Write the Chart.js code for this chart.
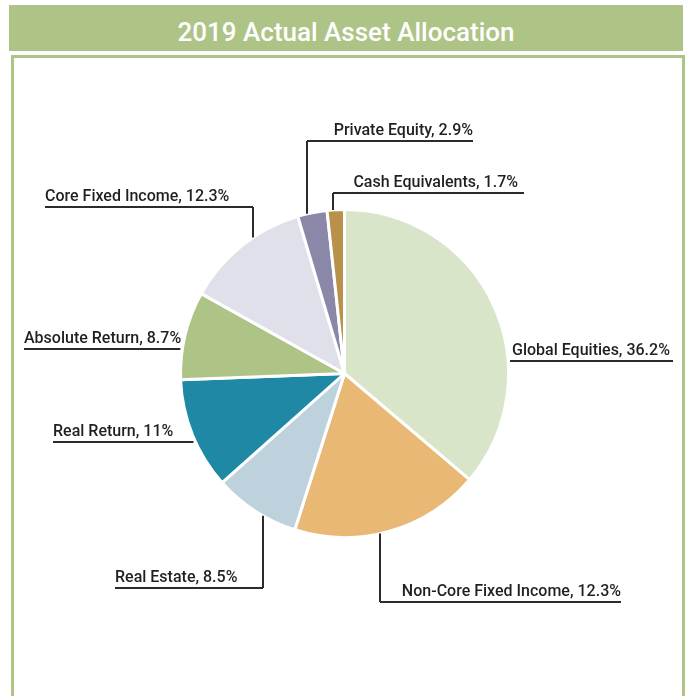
<!DOCTYPE html>
<html>
<head>
<meta charset="utf-8">
<script src="https://cdn.jsdelivr.net/npm/chart.js@4.4.1/dist/chart.umd.min.js"></script>
<style>
    html, body { margin: 0; padding: 0; background: #fff; }
    body { width: 688px; height: 696px; position: relative; overflow: hidden; font-family: Roboto, sans-serif; }
    #header {
        position: absolute; left: 9px; top: 5px; width: 674px; height: 46px;
        background: #adc486; color: #fff; text-align: center;
        font: 500 26px Roboto, sans-serif; line-height: 54px;
    }
    #box {
        position: absolute; left: 11px; top: 55px; width: 668px; height: 660px;
        border: 3px solid #adc486;
    }
    #chart { position: absolute; left: 0; top: 0; }
</style>
</head>
<body>
<div id="header">2019 Actual Asset Allocation</div>
<div id="box"></div>
<canvas id="chart" width="688" height="696"></canvas>
<script>
'use strict';

// slice order, clockwise from 12 o'clock
const categories = ['Global Equities', 'Non-Core Fixed Income', 'Real Estate', 'Real Return',
    'Absolute Return', 'Core Fixed Income', 'Private Equity', 'Cash Equivalents'];
// slice sizes as drawn (the non-core slice is drawn larger than its printed label)
const sliceValues = [36.2, 18.7, 8.5, 11, 8.7, 12.3, 2.9, 1.7];
// percentages as printed in the callouts
const labelValues = ['36.2%', '12.3%', '8.5%', '11%', '8.7%', '12.3%', '2.9%', '1.7%'];
const sliceColors = ['#d9e5c9', '#e9b874', '#bdd2dc', '#1f88a4', '#adc486', '#e0e0ea', '#8b87a8', '#b8924b'];

// callout layout: underline y, underline start/end, text anchor, leader type
// 'v' = vertical drop at x to the pie edge, 'l' / 'r' = underline runs to the pie edge
const callouts = [
    { y: 361, x1: 673, tx: 512, align: 'left', lead: 'r' },
    { y: 602, x0: 380, x1: 621, tx: 621, align: 'right', lead: 'v', vx: 380 },
    { y: 588, x0: 115, x1: 263, tx: 115, align: 'left', lead: 'v', vx: 263 },
    { y: 442, x0: 53, tx: 53, align: 'left', lead: 'l' },
    { y: 349, x0: 24, tx: 24, align: 'left', lead: 'l' },
    { y: 207, x0: 45, x1: 253, tx: 45, align: 'left', lead: 'v', vx: 253 },
    { y: 141, x0: 307, x1: 473, tx: 473, align: 'right', lead: 'v', vx: 307 },
    { y: 193, x0: 333, x1: 524, tx: 518, align: 'right', lead: 'v', vx: 333 }
];

const calloutPlugin = {
    id: 'callouts',
    afterDraw: function(chart) {
        const ctx = chart.ctx;
        const arc = chart.getDatasetMeta(0).data[0];
        const cx = arc.x, cy = arc.y, r = arc.outerRadius;
        ctx.save();
        ctx.strokeStyle = '#2b2b2b';
        ctx.lineWidth = 2;
        ctx.fillStyle = '#231f20';
        ctx.font = '500 16px Roboto, sans-serif';
        ctx.textBaseline = 'alphabetic';
        callouts.forEach(function(c, i) {
            ctx.beginPath();
            if (c.lead === 'v') {
                // vertical leader meets the circle at x = vx
                const dy = Math.sqrt(r * r - (c.vx - cx) * (c.vx - cx));
                const edgeY = c.y < cy ? cy - dy : cy + dy;
                ctx.moveTo(c.x0, c.y);
                ctx.lineTo(c.x1, c.y);
                ctx.moveTo(c.vx, c.y);
                ctx.lineTo(c.vx, edgeY);
            } else {
                const dx = Math.sqrt(r * r - (c.y - cy) * (c.y - cy));
                if (c.lead === 'l') {
                    ctx.moveTo(c.x0, c.y);
                    ctx.lineTo(cx - dx - 2, c.y);
                } else {
                    ctx.moveTo(cx + dx + 2, c.y);
                    ctx.lineTo(c.x1, c.y);
                }
            }
            ctx.stroke();
            ctx.textAlign = c.align;
            ctx.fillText(categories[i] + ', ' + labelValues[i], c.tx, c.y - 6);
        });
        ctx.restore();
    }
};

new Chart(document.getElementById('chart'), {
    type: 'pie',
    data: {
        labels: categories,
        datasets: [{
            data: sliceValues,
            backgroundColor: sliceColors,
            borderColor: '#ffffff',
            borderWidth: 3
        }]
    },
    options: {
        responsive: false,
        animation: false,
        layout: { padding: { left: 179, right: 178, top: 208, bottom: 157 } },
        plugins: {
            legend: { display: false },
            tooltip: { enabled: false }
        }
    },
    plugins: [calloutPlugin]
});
</script>
</body>
</html>
